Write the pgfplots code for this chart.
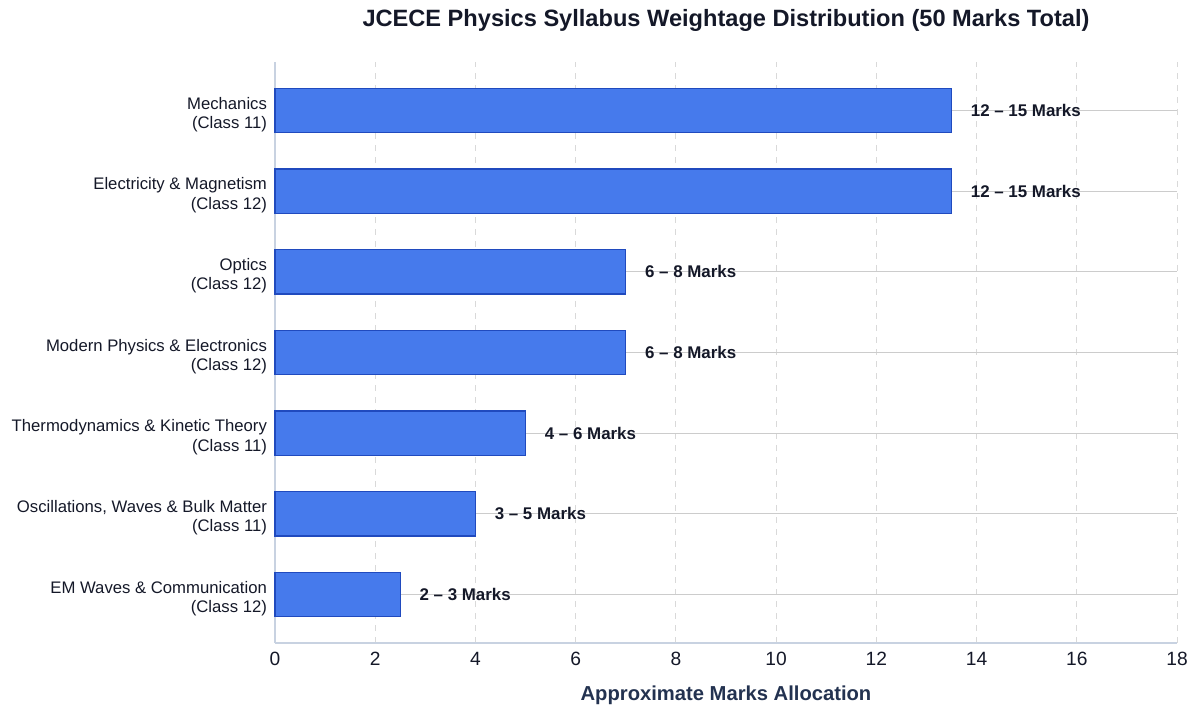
\documentclass[border=0pt]{standalone}
\usepackage{pgfplots}
\pgfplotsset{compat=1.18}
\usepackage{fontspec}
\setmainfont{Liberation Sans}
\definecolor{barfill}{RGB}{70,122,236}
\definecolor{baredge}{RGB}{32,74,190}
\definecolor{titlecol}{RGB}{20,24,40}
\definecolor{labcol}{RGB}{35,50,80}
\definecolor{axcol}{RGB}{200,210,225}
\begin{document}
\begin{tikzpicture}
\useasboundingbox (-137.5pt,-36.5pt) rectangle (462.5pt,321.5pt);
\begin{axis}[
  at={(0,0)}, anchor=south west,
  scale only axis, width=451pt, height=290.5pt,
  xmin=0, xmax=18, ymin=-0.6, ymax=6.6,
  xbar, bar width=0.55,
  xtick={0,2,...,18},
  ytick={0,1,2,3,4,5,6},
  yticklabels={{EM Waves \& Communication\\(Class 12)},
               {Oscillations, Waves \& Bulk Matter\\(Class 11)},
               {Thermodynamics \& Kinetic Theory\\(Class 11)},
               {Modern Physics \& Electronics\\(Class 12)},
               {Optics\\(Class 12)},
               {Electricity \& Magnetism\\(Class 12)},
               {Mechanics\\(Class 11)}},
  yticklabel style={align=right, font=\fontsize{8.35pt}{9.6pt}\selectfont, text=titlecol, xshift=-0.5pt, yshift=-2pt},
  xticklabel style={font=\fontsize{9.6pt}{11pt}\selectfont, text=titlecol, yshift=-1pt},
  /pgf/number format/assume math mode=true,
  major tick length=0pt,
  axis line style={axcol, line width=0.8pt},
  axis x line*=bottom, axis y line*=left,
  separate axis lines,
  x axis line style={-}, y axis line style={-},
  xmajorgrids, ymajorgrids,
  x grid style={dashed, gray!30, line width=0.5pt},
  y grid style={solid, gray!40, line width=0.6pt},
  xlabel={\textbf{Approximate Marks Allocation}},
  xlabel style={font=\fontsize{10.1pt}{12pt}\selectfont, text=labcol, at={(axis description cs:0.5,0)}, anchor=center, yshift=-26pt},
  title={\textbf{JCECE Physics Syllabus Weightage Distribution (50 Marks Total)}},
  title style={font=\fontsize{11.8pt}{13pt}\selectfont, text=titlecol, at={(axis description cs:0.5,1)}, anchor=center, yshift=15pt},
  nodes near coords,
  point meta=explicit symbolic,
  every node near coord/.append style={font=\bfseries\fontsize{8.45pt}{9.5pt}\selectfont, text=titlecol, anchor=west, xshift=6pt},
  clip=false,
]
\addplot[fill=barfill, draw=baredge, line width=0.7pt] coordinates {
  (2.5,0) [2 -- 3 Marks]
  (4,1) [3 -- 5 Marks]
  (5,2) [4 -- 6 Marks]
  (7,3) [6 -- 8 Marks]
  (7,4) [6 -- 8 Marks]
  (13.5,5) [12 -- 15 Marks]
  (13.5,6) [12 -- 15 Marks]
};
\end{axis}
\end{tikzpicture}
\end{document}
